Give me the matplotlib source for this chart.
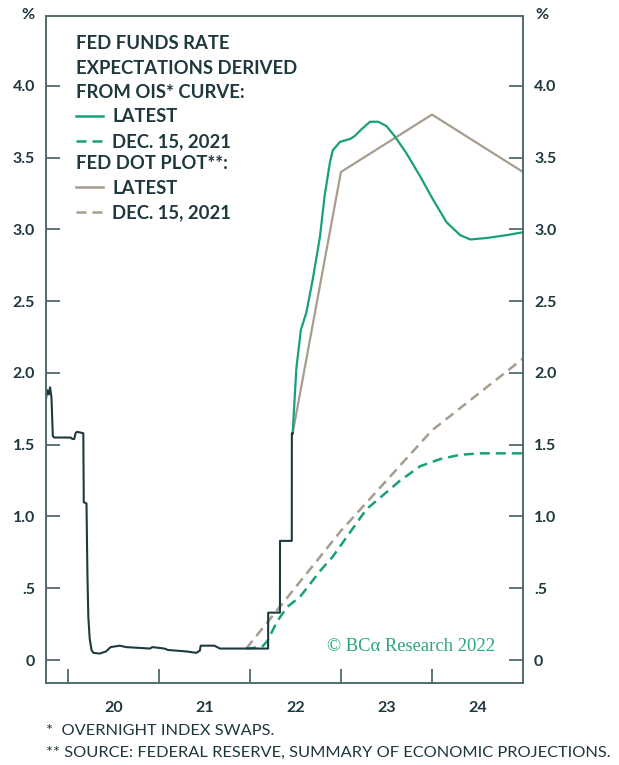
import matplotlib
matplotlib.use("Agg")
import matplotlib.pyplot as plt
from matplotlib.lines import Line2D
from matplotlib.ticker import FixedLocator, FuncFormatter, NullFormatter

plt.rcParams['font.family'] = ['Lato', 'DejaVu Sans']

TEXT = '#1e383d'
SPINE = '#4f6b6f'
GREEN = '#17a079'
TAN = '#a89c8f'
FFR_COL = '#1d3a3f'

# effective fed funds rate, decimal year / %
ffr_t = [2019.76, 2019.775, 2019.79, 2019.805, 2019.82, 2019.835, 2019.85,
         2019.95, 2020.03, 2020.05, 2020.07, 2020.085, 2020.10, 2020.17,
         2020.175, 2020.205, 2020.215, 2020.225, 2020.24, 2020.26, 2020.28,
         2020.35, 2020.42, 2020.47, 2020.57, 2020.64, 2020.90, 2020.93,
         2021.06, 2021.10, 2021.30, 2021.41, 2021.45, 2021.46, 2021.61,
         2021.67, 2022.20, 2022.201, 2022.33, 2022.331, 2022.46, 2022.461,
         2022.47]
ffr_v = [1.82, 1.88, 1.85, 1.90, 1.83, 1.56, 1.55,
         1.55, 1.55, 1.54, 1.54, 1.58, 1.59, 1.58,
         1.10, 1.09, 0.60, 0.30, 0.15, 0.07, 0.05,
         0.045, 0.06, 0.09, 0.10, 0.09, 0.08, 0.09,
         0.08, 0.07, 0.06, 0.05, 0.065, 0.10, 0.10,
         0.08, 0.08, 0.33, 0.33, 0.83, 0.83, 1.58,
         1.58]

# OIS-implied policy path, latest
ois_t = [2022.47, 2022.51, 2022.56, 2022.62, 2022.69, 2022.77, 2022.82,
         2022.88, 2022.91, 2022.99, 2023.10, 2023.15, 2023.23, 2023.32,
         2023.41, 2023.50, 2023.59, 2023.72, 2023.87, 2024.01, 2024.16,
         2024.31, 2024.42, 2024.60, 2024.82, 2025.0]
ois_v = [1.58, 2.03, 2.30, 2.42, 2.65, 2.95, 3.23,
         3.47, 3.55, 3.61, 3.63, 3.65, 3.70, 3.75,
         3.75, 3.72, 3.65, 3.53, 3.37, 3.21, 3.05,
         2.96, 2.93, 2.94, 2.96, 2.98]

# OIS-implied policy path as of Dec 15, 2021
ois_dec_t = [2021.96, 2022.13, 2022.19, 2022.30, 2022.41, 2022.55, 2022.71,
             2022.77, 2022.91, 2023.28, 2023.65, 2023.87, 2024.09, 2024.31,
             2024.53, 2025.0]
ois_dec_v = [0.08, 0.09, 0.13, 0.27, 0.37, 0.44, 0.57,
             0.62, 0.72, 1.05, 1.25, 1.35, 1.40, 1.43,
             1.44, 1.44]

# FOMC median dots (year-end), latest and Dec 2021
dots_t = [2022.47, 2023.0, 2024.0, 2025.0]
dots_v = [1.58, 3.4, 3.8, 3.4]
dots_dec_t = [2021.96, 2023.0, 2024.0, 2025.0]
dots_dec_v = [0.08, 0.9, 1.6, 2.1]

years = [2020, 2021, 2022, 2023, 2024]
year_labels = ['20', '21', '22', '23', '24']
y_ticks = [0, 0.5, 1.0, 1.5, 2.0, 2.5, 3.0, 3.5, 4.0]

fig = plt.figure(figsize=(6.19, 7.65), dpi=100)
ax = fig.add_axes([0.0743, 0.1072, 0.7706, 0.8725])

dash = (4, 2.4)
ax.plot(dots_dec_t, dots_dec_v, color=TAN, lw=1.8, dashes=dash)
ax.plot(ois_dec_t, ois_dec_v, color=GREEN, lw=1.8, dashes=dash)
ax.plot(dots_t, dots_v, color=TAN, lw=1.6)
ax.plot(ois_t, ois_v, color=GREEN, lw=1.6)
ax.plot(ffr_t, ffr_v, color=FFR_COL, lw=1.5)

ax.set_xlim(2019.76, 2025.0)
ax.set_ylim(-0.16, 4.49)

for s in ax.spines.values():
    s.set_color(SPINE)
    s.set_linewidth(1.4)

ax.yaxis.set_major_locator(FixedLocator(y_ticks))
ax.yaxis.set_major_formatter(FuncFormatter(
    lambda v, _: '0' if v == 0 else ('.5' if v < 1 else f'{v:.1f}')))
ax.tick_params(axis='y', which='major', direction='in', length=10,
               width=1.3, color=SPINE, left=True, right=True,
               labelleft=True, labelright=True, pad=8,
               labelsize=11.5, labelcolor=TEXT)

ax.xaxis.set_major_locator(FixedLocator(years))
ax.xaxis.set_major_formatter(NullFormatter())
ax.xaxis.set_minor_locator(FixedLocator([y + 0.5 for y in years]))
ax.xaxis.set_minor_formatter(FuncFormatter(
    lambda v, _: year_labels[int(v) - years[0]]))
ax.tick_params(axis='x', which='major', direction='in', length=10,
               width=1.3, color=SPINE)
ax.tick_params(axis='x', which='minor', length=0, pad=13,
               labelsize=11.5, labelcolor=TEXT)
for lab in ax.xaxis.get_ticklabels(which='both') + ax.yaxis.get_ticklabels(which='both'):
    lab.set_fontweight('bold')

for xp in (28, 542):
    fig.text(xp / 619, 1 - 15 / 765, '%', ha='center', va='center',
             fontsize=11.5, color=TEXT, fontweight='bold')

# legend blocks: OIS header as text, then one legend per source
FS = 13.3
ax.text(0.063, 0.971, 'FED FUNDS RATE\nEXPECTATIONS DERIVED\nFROM OIS* CURVE:',
        transform=ax.transAxes, ha='left', va='top', fontsize=FS,
        fontweight='bold', color=TEXT, linespacing=1.55)
leg_kw = dict(frameon=False, borderpad=0, borderaxespad=0, handlelength=1.45,
              handletextpad=0.5, labelspacing=0.43, alignment='left',
              prop={'size': FS, 'weight': 'bold'},
              title_fontproperties={'size': FS, 'weight': 'bold'},
              labelcolor=TEXT, loc='upper left')
h_ois = [Line2D([], [], color=GREEN, lw=1.8),
         Line2D([], [], color=GREEN, lw=1.8, dashes=dash)]
leg1 = ax.legend(h_ois, ['LATEST', 'DEC. 15, 2021'],
                 bbox_to_anchor=(0.063, 0.861), **leg_kw)
ax.add_artist(leg1)
h_dots = [Line2D([], [], color=TAN, lw=1.8),
          Line2D([], [], color=TAN, lw=1.8, dashes=dash)]
leg2 = ax.legend(h_dots, ['LATEST', 'DEC. 15, 2021'],
                 title='FED DOT PLOT**:',
                 bbox_to_anchor=(0.063, 0.7915), **leg_kw)
leg2.get_title().set_color(TEXT)

ax.text(0.941, 0.054, '\u00a9 BC\u03b1 Research 2022', transform=ax.transAxes,
        ha='right', va='center', fontsize=13.4, color='#2aa57f',
        family=['Liberation Serif', 'DejaVu Serif'])

fig.text(46 / 619, 1 - 731 / 765, '*  OVERNIGHT INDEX SWAPS.', ha='left',
         va='center', fontsize=11.8, color=TEXT)
fig.text(46 / 619, 1 - 753 / 765,
         '** SOURCE: FEDERAL RESERVE, SUMMARY OF ECONOMIC PROJECTIONS.',
         ha='left', va='center', fontsize=11.8, color=TEXT)

fig.savefig('out.png', dpi=100)
